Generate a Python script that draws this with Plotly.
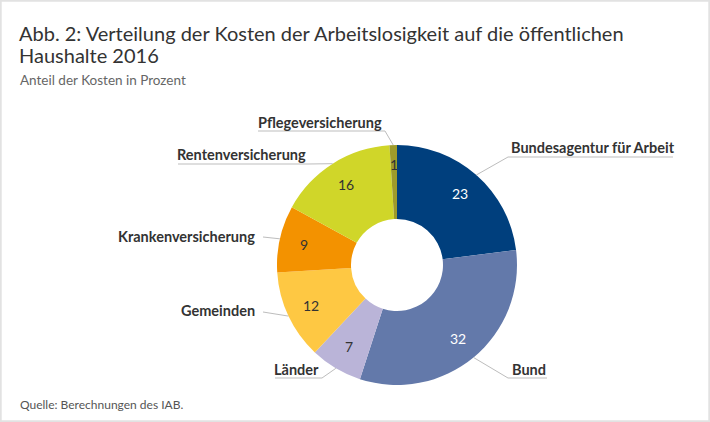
import math
import plotly.graph_objects as go

categories = ["Bundesagentur für Arbeit", "Bund", "Länder", "Gemeinden",
              "Krankenversicherung", "Rentenversicherung", "Pflegeversicherung"]
values = [23, 32, 7, 12, 9, 16, 1]
colors = ["#003f7d", "#6379aa", "#bab4d8", "#fec843", "#f39200", "#d0d629", "#9e9b2b"]
value_font_colors = ["#ffffff", "#ffffff", "#333333", "#333333", "#333333", "#333333", "#333333"]

title_lines = ["Abb. 2: Verteilung der Kosten der Arbeitslosigkeit auf die öffentlichen",
               "Haushalte 2016"]
subtitle_text = "Anteil der Kosten in Prozent"
source_text = "Quelle: Berechnungen des IAB."

W, H = 710, 422
CX, CY, R, R_IN = 397, 265, 120, 46
FONT = "Lato"

fig = go.Figure()
fig.add_trace(go.Pie(
    labels=categories, values=values, sort=False, direction="clockwise",
    rotation=0, hole=R_IN / R, marker=dict(colors=colors, line=dict(width=0)),
    textinfo="none", hoverinfo="label+value",
    domain=dict(x=[(CX - R) / W, (CX + R) / W], y=[1 - (CY + R) / H, 1 - (CY - R) / H]),
))

def px2paper(x, y):
    return x / W, 1 - y / H

annotations = []
shapes = []
total = sum(values)
cum = 0
label_layout = {
    "Bundesagentur für Arbeit": dict(tx=509, ty=147, anchor="left", elbow=(508, 157), lend=673),
    "Bund": dict(tx=510, ty=369, anchor="left", elbow=(508, 378), lend=547),
    "Länder": dict(tx=321, ty=369, anchor="right", elbow=(322, 378), lend=275),
    "Gemeinden": dict(tx=257, ty=310, anchor="right", elbow=(263, 312), lend=263),
    "Krankenversicherung": dict(tx=257, ty=236, anchor="right", elbow=(263, 237), lend=263),
    "Rentenversicherung": dict(tx=308, ty=155, anchor="right", elbow=(308, 164), lend=178),
    "Pflegeversicherung": dict(tx=384, ty=122, anchor="right", elbow=(385, 131), lend=258),
}
for cat, v, fc in zip(categories, values, value_font_colors):
    mid = (cum + v / 2) / total * 2 * math.pi
    cum += v
    rv = 95 if v > 2 else 101
    vx = CX + rv * math.sin(mid)
    vy = CY - rv * math.cos(mid)
    x, y = px2paper(vx, vy)
    annotations.append(dict(x=x, y=y, xref="paper", yref="paper", text=str(v), showarrow=False,
                            font=dict(family=FONT, size=14, color=fc), xanchor="center", yanchor="middle"))
    ax = CX + R * math.sin(mid)
    ay = CY - R * math.cos(mid)
    L = label_layout[cat]
    ex, ey = L["elbow"]
    pts = [(ax, ay), (ex, ey), (L["lend"], ey)]
    path = "M " + " L ".join(f"{px2paper(a, b)[0]},{px2paper(a, b)[1]}" for a, b in pts)
    shapes.append(dict(type="path", path=path, xref="paper", yref="paper",
                       line=dict(color="#bdbdbd", width=1)))
    x, y = px2paper(L["tx"], L["ty"])
    annotations.append(dict(x=x, y=y, xref="paper", yref="paper", text=f"<b>{cat}</b>", showarrow=False,
                            font=dict(family=FONT, size=14.5, color="#333333"),
                            xanchor=L["anchor"], yanchor="middle"))

for i, line in enumerate(title_lines):
    x, y = px2paper(17, 33 + 22 * i)
    annotations.append(dict(x=x, y=y, xref="paper", yref="paper", text=line, showarrow=False,
                            font=dict(family=FONT, size=20, color="#333333"), xanchor="left",
                            yanchor="middle"))
x, y = px2paper(18, 80)
annotations.append(dict(x=x, y=y, xref="paper", yref="paper", text=subtitle_text, showarrow=False,
                        font=dict(family=FONT, size=13.5, color="#666666"), xanchor="left", yanchor="middle"))
x, y = px2paper(18, 404)
annotations.append(dict(x=x, y=y, xref="paper", yref="paper", text=source_text, showarrow=False,
                        font=dict(family=FONT, size=12, color="#555555"), xanchor="left", yanchor="middle"))

shapes.append(dict(type="rect", xref="paper", yref="paper", x0=0.001, y0=0.002, x1=0.999, y1=0.998,
                   line=dict(color="#e2e2e2", width=2)))

fig.update_layout(
    width=W, height=H, margin=dict(l=0, r=0, t=0, b=0), showlegend=False,
    paper_bgcolor="white", plot_bgcolor="white",
    annotations=annotations, shapes=shapes,
    font=dict(family=FONT),
)
fig.write_html("out.html", config={"displayModeBar": False},
               post_script="document.body.style.margin='0';document.body.style.padding='0';")
